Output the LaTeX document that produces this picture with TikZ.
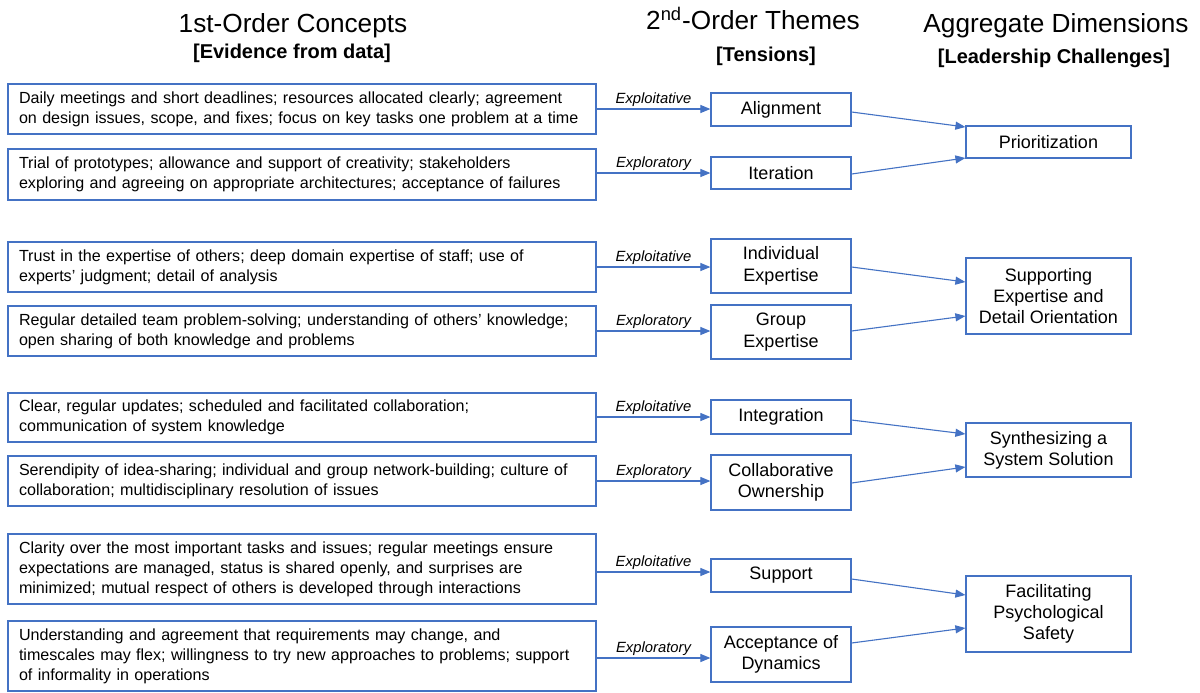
\documentclass[tikz,border=0pt]{standalone}
\usepackage{fontspec}
\setmainfont{Liberation Sans}
\usetikzlibrary{arrows.meta,calc}
\definecolor{boxblue}{RGB}{68,114,196}
\definecolor{arrblue}{RGB}{68,114,196}
\begin{document}
\begin{tikzpicture}[x=0.5pt,y=-0.5pt,
  lbox/.style={draw=boxblue, line width=0.6pt, minimum width=294pt, text width=283pt, inner xsep=5.5pt, inner ysep=0pt, align=left, font=\fontsize{8.05}{10}\selectfont},
  mbox/.style={draw=boxblue, line width=0.6pt, minimum width=70pt, inner sep=0pt, align=center, font=\fontsize{9}{10.8}\selectfont},
  rbox/.style={draw=boxblue, line width=0.6pt, minimum width=82.5pt, inner sep=0pt, align=center, font=\fontsize{9}{10.6}\selectfont},
  arr/.style={draw=arrblue, line width=0.55pt, -{Triangle[length=5pt,width=4pt]}},
  tlabel/.style={font=\fontsize{7.4}{8}\selectfont\itshape, inner sep=1pt, above},
  title/.style={font=\fontsize{13.1}{15}\selectfont, anchor=base},
  subtitle/.style={font=\fontsize{10}{12}\selectfont\bfseries, anchor=base}]
\useasboundingbox (0,0) rectangle (1200,692);
\fill[white] (0,0) rectangle (1200,692);

% titles
\node[title] (T1) at (293,32) {1st-Order Concepts};
\node[subtitle] (S1) at (292,58) {[Evidence from data]};
\node[title] (T2) at (753,29) {2\textsuperscript{nd}-Order Themes};
\node[subtitle] (S2) at (766,61) {[Tensions]};
\node[title] (T3) at (1056,32) {Aggregate Dimensions};
\node[subtitle] (S3) at (1054,63) {[Leadership Challenges]};

% first-order concepts
\node[lbox, minimum height=25pt] (L1) at (302,109) {\mbox{Daily meetings and short deadlines; resources allocated clearly; agreement}\\\mbox{on design issues, scope, and fixes; focus on key tasks one problem at a time}};
\node[lbox, minimum height=25.5pt] (L2) at (302,174.5) {\mbox{Trial of prototypes; allowance and support of creativity; stakeholders}\\\mbox{exploring and agreeing on appropriate architectures; acceptance of failures}};
\node[lbox, minimum height=25pt] (L3) at (302,267) {\mbox{Trust in the expertise of others; deep domain expertise of staff; use of}\\experts’ judgment; detail of analysis};
\node[lbox, minimum height=25pt] (L4) at (302,331) {\mbox{Regular detailed team problem-solving; understanding of others’ knowledge;}\\open sharing of both knowledge and problems};
\node[lbox, minimum height=24.5pt] (L5) at (302,417.5) {\mbox{Clear, regular updates; scheduled and facilitated collaboration;}\\communication of system knowledge};
\node[lbox, minimum height=25pt] (L6) at (302,481) {\mbox{Serendipity of idea-sharing; individual and group network-building; culture of}\\collaboration; multidisciplinary resolution of issues};
\node[lbox, minimum height=35pt] (L7) at (302,569) {\mbox{Clarity over the most important tasks and issues; regular meetings ensure}\\\mbox{expectations are managed, status is shared openly, and surprises are}\\\mbox{minimized; mutual respect of others is developed through interactions}};
\node[lbox, minimum height=35pt] (L8) at (302,656) {\mbox{Understanding and agreement that requirements may change, and}\\\mbox{timescales may flex; willingness to try new approaches to problems; support}\\of informality in operations};

% second-order themes
\node[mbox, minimum height=16.5pt] (M1) at (781,109.5) {Alignment};
\node[mbox, minimum height=16pt] (M2) at (781,173) {Iteration};
\node[mbox, minimum height=27pt] (M3) at (781,266) {Individual\\Expertise};
\node[mbox, minimum height=27pt] (M4) at (781,332) {Group\\Expertise};
\node[mbox, minimum height=17pt] (M5) at (781,417) {Integration};
\node[mbox, minimum height=27.5pt] (M6) at (781,482.5) {Collaborative\\Ownership};
\node[mbox, minimum height=16.5pt] (M7) at (781,575.5) {Support};
\node[mbox, minimum height=27.5pt] (M8) at (781,654.5) {Acceptance of\\Dynamics};

% aggregate dimensions
\node[rbox, minimum height=16pt] (R1) at (1048.5,142) {Prioritization};
\node[rbox, minimum height=38pt] (R2) at (1048.5,296) {Supporting\\Expertise and\\Detail Orientation};
\node[rbox, minimum height=27pt] (R3) at (1048.5,450) {Synthesizing a\\System Solution};
\node[rbox, minimum height=38pt] (R4) at (1048.5,614) {Facilitating\\Psychological\\Safety};

% concepts -> themes
\draw[arr] (L1.east |- 0,109) -- node[tlabel] (E1) {Exploitative} (M1.west |- 0,109);
\draw[arr] (L2.east |- 0,173) -- node[tlabel] (E2) {Exploratory} (M2.west |- 0,173);
\draw[arr] (L3.east |- 0,267) -- node[tlabel] (E3) {Exploitative} (M3.west |- 0,267);
\draw[arr] (L4.east |- 0,331) -- node[tlabel] (E4) {Exploratory} (M4.west |- 0,331);
\draw[arr] (L5.east |- 0,417) -- node[tlabel] (E5) {Exploitative} (M5.west |- 0,417);
\draw[arr] (L6.east |- 0,481) -- node[tlabel] (E6) {Exploratory} (M6.west |- 0,481);
\draw[arr] (L7.east |- 0,572) -- node[tlabel] (E7) {Exploitative} (M7.west |- 0,572);
\draw[arr] (L8.east |- 0,658) -- node[tlabel] (E8) {Exploratory} (M8.west |- 0,658);

% themes -> dimensions
\draw[arr] (M1.east |- 0,112) -- (R1.west |- 0,127);
\draw[arr] (M2.east |- 0,174) -- (R1.west |- 0,158);
\draw[arr] (M3.east |- 0,267) -- (R2.west |- 0,282);
\draw[arr] (M4.east |- 0,331) -- (R2.west |- 0,316);
\draw[arr] (M5.east |- 0,420) -- (R3.west |- 0,434);
\draw[arr] (M6.east |- 0,483) -- (R3.west |- 0,467);
\draw[arr] (M7.east |- 0,579) -- (R4.west |- 0,595);
\draw[arr] (M8.east |- 0,643) -- (R4.west |- 0,628);
\end{tikzpicture}
\end{document}
